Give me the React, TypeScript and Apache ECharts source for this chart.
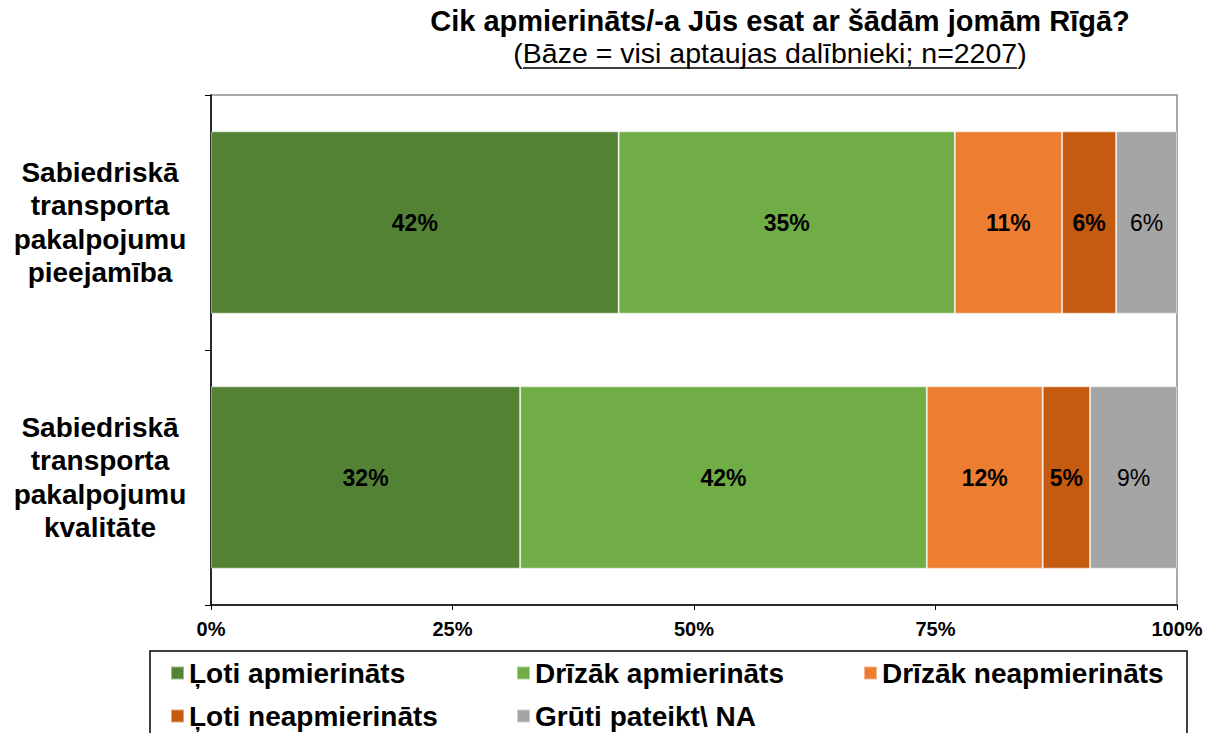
import React, { useEffect, useRef } from "react";
import * as echarts from "echarts";

const categories = [
  "Sabiedriskā\ntransporta\npakalpojumu\npieejamība",
  "Sabiedriskā\ntransporta\npakalpojumu\nkvalitāte",
];
const seriesNames = [
  "Ļoti apmierināts",
  "Drīzāk apmierināts",
  "Drīzāk neapmierināts",
  "Ļoti neapmierināts",
  "Grūti pateikt\\ NA",
];
const veryPositive = [42.2, 32.0];
const ratherPositive = [34.8, 42.1];
const ratherNegative = [11.1, 12.0];
const veryNegative = [5.6, 4.9];
const hardToSay = [6.3, 9.0];
const xTicks = [0, 25, 50, 75, 100];

const colors = ["#548235", "#70ad47", "#ed7d31", "#c55a11", "#a5a5a5"];
const FONT = "'Liberation Sans', Arial, sans-serif";

export default function App() {
  const ref = useRef<HTMLDivElement>(null);
  useEffect(() => {
    if (!ref.current) return;
    const chart = echarts.init(ref.current, null, { renderer: "svg" });
    const allData = [veryPositive, ratherPositive, ratherNegative, veryNegative, hardToSay];
    const series = allData.map((d, i) => ({
      name: seriesNames[i],
      type: "bar",
      stack: "total",
      barWidth: "71.5%",
      data: d,
      itemStyle: { color: colors[i], borderColor: "rgba(255,255,255,0.45)", borderWidth: 1 },
      label: {
        show: true,
        position: "inside",
        formatter: (p: any) => Math.round(p.value) + "%",
        color: "#000",
        fontFamily: FONT,
        fontSize: 23,
        fontWeight: i === 4 ? "normal" : "bold",
      },
    }));
    const legendPos = [
      { left: 170, top: 659 },
      { left: 516, top: 659 },
      { left: 863, top: 659 },
      { left: 170, top: 702 },
      { left: 516, top: 702 },
    ];
    chart.setOption({
      animation: false,
      backgroundColor: "#fff",
      grid: {
        left: 211,
        right: 37,
        top: 95,
        bottom: 128,
        show: true,
        borderColor: "#8c8c8c",
        borderWidth: 1.5,
        containLabel: false,
      },
      xAxis: {
        type: "value",
        min: xTicks[0],
        max: xTicks[xTicks.length - 1],
        interval: 25,
        axisLine: { show: true, lineStyle: { color: "#000", width: 1.5 } },
        axisTick: { show: true, length: 5, lineStyle: { color: "#000" } },
        splitLine: { show: false },
        axisLabel: {
          formatter: "{value}%",
          color: "#000",
          fontFamily: FONT,
          fontSize: 20,
          fontWeight: "bold",
          margin: 14,
        },
      },
      yAxis: {
        type: "category",
        data: categories,
        inverse: true,
        axisLine: { show: true, lineStyle: { color: "#000", width: 1.5 } },
        axisTick: { show: true, length: 6, lineStyle: { color: "#000" } },
        axisLabel: {
          color: "#000",
          fontFamily: FONT,
          fontSize: 28,
          fontWeight: "bold",
          align: "center",
          margin: 111,
          lineHeight: 33.5,
        },
      },
      legend: seriesNames.map((n, i) => ({
        data: [n],
        left: legendPos[i].left,
        top: legendPos[i].top,
        padding: 0,
        icon: "rect",
        itemWidth: 13,
        itemHeight: 13,
        selectedMode: false,
        textStyle: { color: "#000", fontFamily: FONT, fontSize: 28, fontWeight: "bold" },
      })),
      graphic: [
        {
          type: "text",
          x: 780,
          y: 6,
          style: {
            text: "Cik apmierināts/-a Jūs esat ar šādām jomām Rīgā?",
            textAlign: "center",
            verticalAlign: "top",
            fill: "#000",
            font: `bold 29px ${FONT}`,
          },
        },
        {
          type: "text",
          x: 770,
          y: 38,
          style: {
            text: "(Bāze = visi aptaujas dalībnieki; n=2207)",
            textAlign: "center",
            verticalAlign: "top",
            fill: "#000",
            font: `28.5px ${FONT}`,
          },
        },
        {
          type: "line",
          shape: { x1: 523, y1: 68, x2: 1017, y2: 68 },
          style: { stroke: "#000", lineWidth: 1.5 },
        },
        {
          type: "rect",
          shape: { x: 150, y: 651, width: 1037, height: 100 },
          style: { fill: "none", stroke: "#000", lineWidth: 1.5 },
        },
      ],
      series,
    });
    return () => chart.dispose();
  }, []);
  return (
    <div
      ref={ref}
      style={{ position: "fixed", left: 0, top: 0, width: 1214, height: 733 }}
    />
  );
}
